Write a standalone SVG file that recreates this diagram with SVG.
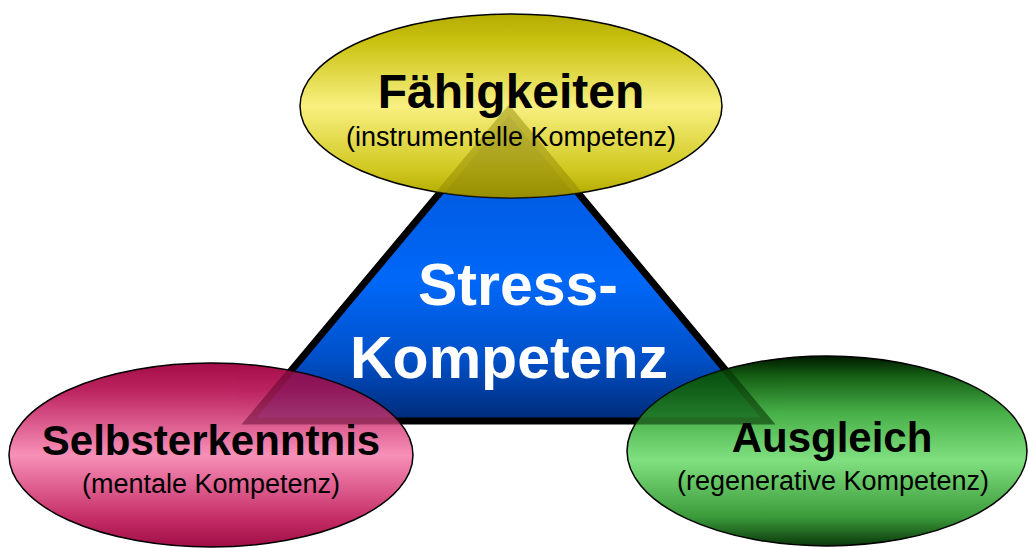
<svg xmlns="http://www.w3.org/2000/svg" width="1029" height="548" viewBox="0 0 1029 548">
  <defs>
    <linearGradient id="gBlue" x1="0" y1="0" x2="0" y2="1">
      <stop offset="0" stop-color="#0050d0"/>
      <stop offset="0.55" stop-color="#0068f8"/>
      <stop offset="0.8" stop-color="#0050c8"/>
      <stop offset="1" stop-color="#002a78"/>
    </linearGradient>
    <linearGradient id="gYellow" x1="0" y1="0" x2="0" y2="1">
      <stop offset="0" stop-color="#b4ac00"/>
      <stop offset="0.15" stop-color="#cac210"/>
      <stop offset="0.5" stop-color="#f8f080"/>
      <stop offset="0.85" stop-color="#d0c820"/>
      <stop offset="1" stop-color="#b0a800"/>
    </linearGradient>
    <linearGradient id="gPink" x1="0" y1="0" x2="0" y2="1">
      <stop offset="0" stop-color="#a40e48"/>
      <stop offset="0.15" stop-color="#bc2460"/>
      <stop offset="0.5" stop-color="#f890b8"/>
      <stop offset="0.85" stop-color="#c42c66"/>
      <stop offset="1" stop-color="#a00e46"/>
    </linearGradient>
    <linearGradient id="gGreen" x1="0" y1="0" x2="0" y2="1">
      <stop offset="0" stop-color="#001800"/>
      <stop offset="0.1" stop-color="#145c14"/>
      <stop offset="0.3" stop-color="#48b048"/>
      <stop offset="0.55" stop-color="#80e080"/>
      <stop offset="0.85" stop-color="#3a9a3a"/>
      <stop offset="1" stop-color="#0a380a"/>
    </linearGradient>
    <clipPath id="cY"><ellipse cx="511" cy="106" rx="211" ry="92"/></clipPath>
    <clipPath id="cP"><ellipse cx="211" cy="455" rx="202" ry="92"/></clipPath>
    <clipPath id="cG"><ellipse cx="827" cy="451" rx="200" ry="95"/></clipPath>
  </defs>
  <style>
    .ell { stroke: #000; stroke-width: 1.5; }
    .tri { stroke-width: 7; stroke-linejoin: miter; }
    .see { opacity: 0.45; }
    .title { font-family: "Liberation Sans", Arial, sans-serif; font-weight: bold; fill: #000; text-anchor: middle; }
    .sub { font-family: "Liberation Sans", Arial, sans-serif; font-size: 27px; fill: #000; text-anchor: middle; }
    .center { font-family: "Liberation Sans", Arial, sans-serif; font-weight: bold; font-size: 59px; fill: #fff; text-anchor: middle; }
  </style>

  <g id="stress-kompetenz">
    <polygon class="tri" points="509,110 249,421 768,421" fill="url(#gBlue)" stroke="#000"/>
    <text class="center" x="518" y="305">Stress-</text>
    <text class="center" x="509" y="378">Kompetenz</text>
  </g>

  <g id="faehigkeiten">
    <ellipse class="ell" cx="511" cy="106" rx="211" ry="92" fill="url(#gYellow)"/>
    <polygon class="tri see" points="509,110 249,421 768,421" fill="#786f00" stroke="#8a8200" clip-path="url(#cY)"/>
    <text class="title" x="511" y="108" font-size="48">Fähigkeiten</text>
    <text class="sub" x="511" y="146">(instrumentelle Kompetenz)</text>
  </g>

  <g id="selbsterkenntnis">
    <ellipse class="ell" cx="211" cy="455" rx="202" ry="92" fill="url(#gPink)"/>
    <polygon class="tri see" points="509,110 249,421 768,421" fill="#5d0f57" stroke="#50002a" clip-path="url(#cP)"/>
    <text class="title" x="211" y="455" font-size="42">Selbsterkenntnis</text>
    <text class="sub" x="211" y="493">(mentale Kompetenz)</text>
  </g>

  <g id="ausgleich">
    <ellipse class="ell" cx="827" cy="451" rx="200" ry="95" fill="url(#gGreen)"/>
    <polygon class="tri" points="509,110 249,421 768,421" fill="#00490f" stroke="#002c00" opacity="0.55" clip-path="url(#cG)"/>
    <text class="title" x="832" y="452" font-size="42">Ausgleich</text>
    <text class="sub" x="833" y="490">(regenerative Kompetenz)</text>
  </g>
</svg>
